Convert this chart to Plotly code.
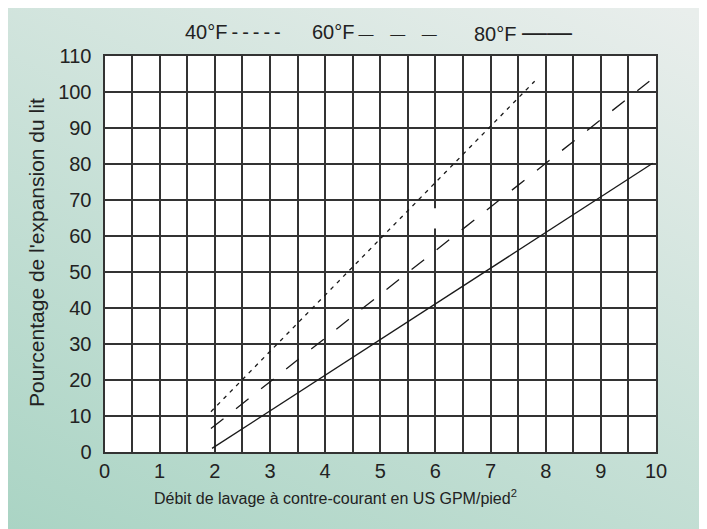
import base64
import plotly.graph_objects as go

# ---- data ----
x_40 = [1.93, 7.80]
y_40 = [11.2, 103.0]
x_60 = [1.93, 9.88]
y_60 = [6.5, 103.0]
x_80 = [1.95, 9.94]
y_80 = [1.0, 80.2]
x_tickvals = list(range(0, 11))
y_tickvals = list(range(0, 111, 10))
series_names = ["40°F", "60°F", "80°F"]

x_title = "Débit de lavage à contre-courant en US GPM/pied<sup>2</sup>"
y_title = "Pourcentage de l'expansion du lit"

# ---- layout geometry (page body adds an 8px offset) ----
OFF = 8
W, H = 707 - OFF, 529 - OFF
PL, PR, PT, PB = 104.5 - OFF, 656.0 - OFF, 56.0 - OFF, 452.0 - OFF
FONT = "Liberation Sans, Arial, sans-serif"
INK = "#222222"
GRID = "#333333"


def px(xp):
    return (xp - OFF) / W


def py(yp):
    return 1 - (yp - OFF) / H


# background gradient (style only)
svg = ('<svg xmlns="http://www.w3.org/2000/svg" width="699" height="521" '
       'viewBox="0 0 100 100" preserveAspectRatio="none"><defs>'
       '<linearGradient id="g" gradientUnits="userSpaceOnUse" x1="0" y1="100" x2="71.86" y2="-15.16">'
       '<stop offset="0" stop-color="#aad4c4"/><stop offset="1" stop-color="#e9eeec"/>'
       '</linearGradient></defs><rect width="100" height="100" fill="url(#g)"/></svg>')
bg_src = "data:image/svg+xml;base64," + base64.b64encode(svg.encode()).decode()

fig = go.Figure()
line_style = dict(color="#1a1a1a", width=1.3)
fig.add_trace(go.Scatter(x=x_40, y=y_40, mode="lines", name=series_names[0],
                         line=dict(**line_style, dash="4px,5px")))
fig.add_trace(go.Scatter(x=x_60, y=y_60, mode="lines", name=series_names[1],
                         line=dict(**line_style, dash="16px,16px")))
fig.add_trace(go.Scatter(x=x_80, y=y_80, mode="lines", name=series_names[2],
                         line=dict(**line_style)))

axis_common = dict(
    showgrid=True, gridcolor=GRID, gridwidth=1.5,
    showline=True, linecolor=GRID, linewidth=2, mirror=True,
    zeroline=False, ticks="", automargin=False,
    tickfont=dict(family=FONT, size=20, color=INK),
)
fig.update_xaxes(range=[0, 10], tickvals=x_tickvals, domain=[PL / W, PR / W],
                 minor=dict(dtick=0.5, showgrid=True, gridcolor=GRID, gridwidth=1.5),
                 ticklabelstandoff=0, **axis_common)
fig.update_yaxes(range=[0, 110], tickvals=y_tickvals, domain=[(H - PB) / H, (H - PT) / H],
                 ticklabelstandoff=7, **axis_common)

shapes = [
    dict(type="rect", xref="x domain", yref="y domain", x0=0, x1=1, y0=0, y1=1,
         fillcolor="white", line=dict(width=0), layer="below"),
    dict(type="rect", xref="x", yref="y", x0=5.85, x1=6.04, y0=62.1, y1=67.7,
         fillcolor="white", line=dict(width=0), layer="between"),
]

leg_font = dict(family=FONT, size=20, color=INK)
annotations = [
    dict(text=series_names[0] + "\u2009-\u2009-\u2009-\u2009-\u2009-",
         x=px(183), y=py(32)),
    dict(text=series_names[1] + '\u2009<span style="font-size:15px">—</span>\u00a0\u00a0\u00a0'
         '<span style="font-size:15px">—</span>\u00a0\u00a0\u00a0<span style="font-size:15px">—</span>',
         x=px(310), y=py(32)),
    dict(text=series_names[2] + '\u00a0<span style="font-size:25px">——</span>',
         x=px(472), y=py(32)),
]
annotations = [dict(a, xref="paper", yref="paper", xanchor="left", yanchor="middle",
                    showarrow=False, font=leg_font) for a in annotations]
annotations.append(dict(text=x_title, xref="paper", yref="paper", x=px(335), y=py(497),
                        xanchor="center", yanchor="middle", showarrow=False,
                        font=dict(family=FONT, size=16, color=INK)))
annotations.append(dict(text=y_title, xref="paper", yref="paper", x=px(37), y=py(253),
                        xanchor="center", yanchor="middle", showarrow=False, textangle=-90,
                        font=dict(family=FONT, size=21, color=INK)))

fig.update_layout(
    width=W, height=H, margin=dict(l=0, r=0, t=0, b=0, pad=0, autoexpand=False),
    paper_bgcolor="white", plot_bgcolor="white", showlegend=False,
    shapes=shapes, annotations=annotations,
    images=[dict(source=bg_src, xref="paper", yref="paper", x=0, y=1,
                 sizex=1, sizey=1, xanchor="left", yanchor="top",
                 sizing="stretch", layer="below")],
)

fig.write_html("out.html")
